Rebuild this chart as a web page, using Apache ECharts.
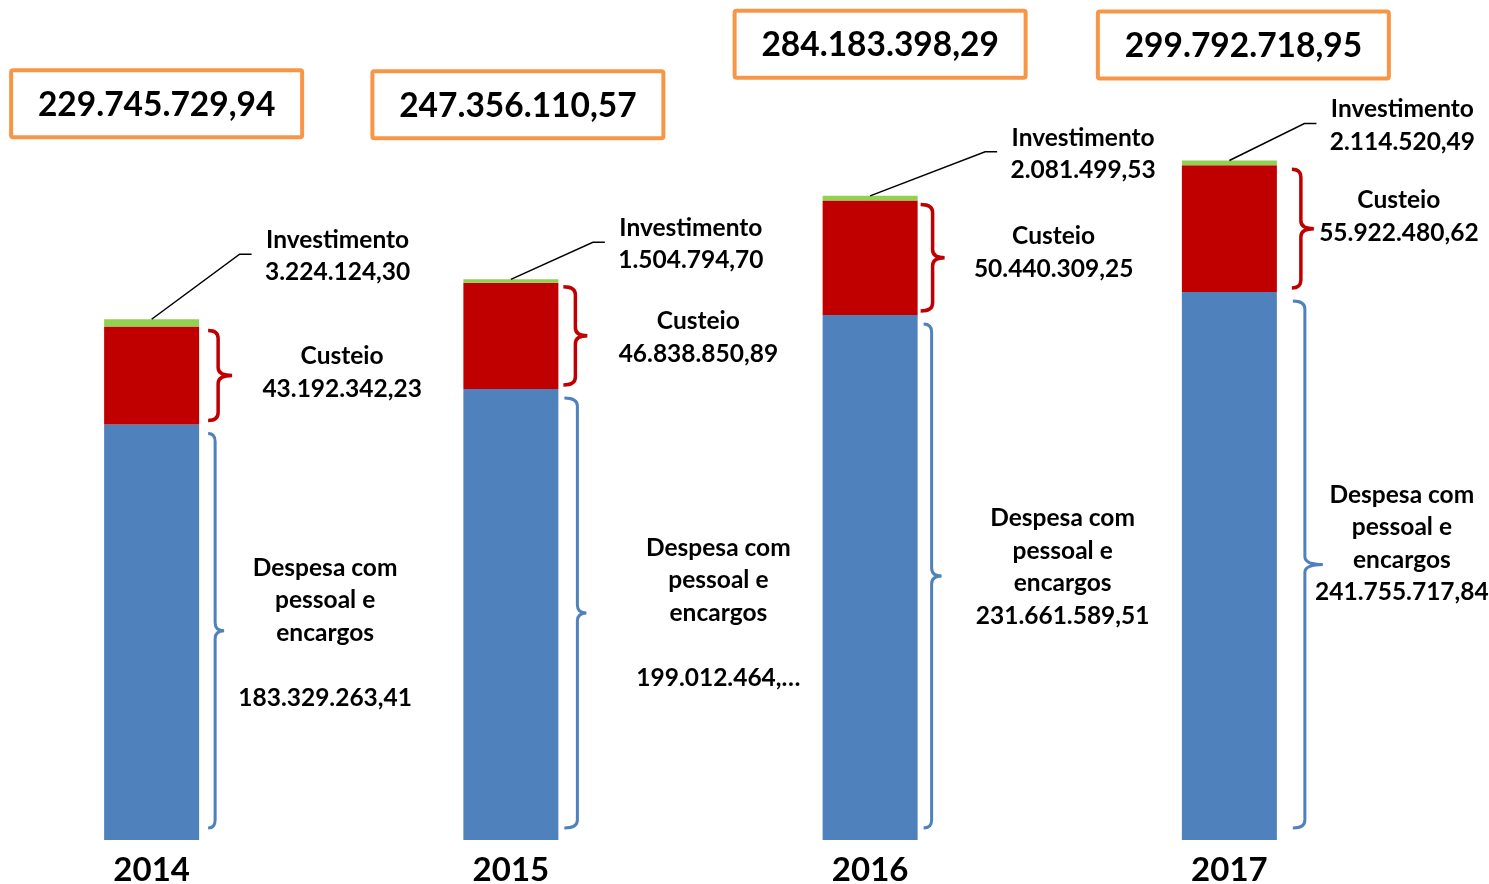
<!DOCTYPE html>
<html>
<head>
<meta charset="utf-8">
<script src="https://cdn.jsdelivr.net/npm/echarts@6/dist/echarts.min.js"></script>
<style>
  html, body { margin: 0; padding: 0; background: #fff; }
  #chart { width: 1489px; height: 884px; }
</style>
</head>
<body>
<div id="chart"></div>
<script>
// dados
const years = ["2014", "2015", "2016", "2017"];
const despesaPessoal = [183329263.41, 199012464.98, 231661589.51, 241755717.84];
const custeio = [43192342.23, 46838850.89, 50440309.25, 55922480.62];
const investimento = [3224124.30, 1504794.70, 2081499.53, 2114520.49];

const FONT = "Lato";
const BAR_W = 95;
const LABEL_SIZE = 24.5;

// layout das anotações (pixels)
const invElbow = [[88, -65], [82, -37], [115, -44], [75, -37]];   // a partir do topo da barra
const custText = [[110, -3], [111, 2], [109, -5], [85, -12]];     // a partir da ponta da chave vermelha
const despText = [[101, 2], [132, 0], [121, -9], [79, -21]];      // a partir da ponta da chave azul
const redBrace = [[9, 19, 33], [5, 17, 29], [3, 15, 27], [15, 24, 37]];  // pontas, haste, bico
const blueBrace = [[9, 16, 25], [6, 19, 28], [6, 14, 24], [16, 28, 46]];
const boxOff = [[5, -215.5], [7, -174.5], [10, -151.5], [14, -115.5]];
const blankLine = [true, true, false, false];
const cutDecimals = [false, true, false, false];

const totals = years.map((y, i) => despesaPessoal[i] + custeio[i] + investimento[i]);

function fmt(v) {
    const parts = v.toFixed(2).split(".");
    return parts[0].replace(/\B(?=(\d{3})+(?!\d))/g, ".") + "," + parts[1];
}

function bracePath(xe, xs, xt, y1, y2, r) {
    const ym = (y1 + y2) / 2;
    return "M" + xe + "," + y1 +
        " Q" + xs + "," + y1 + " " + xs + "," + (y1 + r) +
        " L" + xs + "," + (ym - r) +
        " Q" + xs + "," + ym + " " + xt + "," + ym +
        " Q" + xs + "," + ym + " " + xs + "," + (ym + r) +
        " L" + xs + "," + (y2 - r) +
        " Q" + xs + "," + y2 + " " + xe + "," + y2;
}

function txt(text, x, y, size) {
    return {
        type: "text",
        style: {
            text: text, x: x, y: y,
            align: "center", verticalAlign: "middle",
            fontFamily: FONT, fontWeight: "bold", fontSize: size,
            lineHeight: 32.5, fill: "#000"
        }
    };
}

function renderNotes(params, api) {
    const i = api.value(0);
    const base = api.coord([i, 0]);
    const cx = base[0];
    const y0 = base[1];
    const yBlue = api.coord([i, despesaPessoal[i]])[1];
    const yRed = api.coord([i, despesaPessoal[i] + custeio[i]])[1];
    const yTop = api.coord([i, totals[i]])[1];
    const right = cx + BAR_W / 2;
    const children = [];

    // chave vermelha (custeio)
    const rb = redBrace[i];
    const r1 = yRed + 4, r2 = yBlue - 4;
    children.push({
        type: "path",
        shape: { pathData: bracePath(right + rb[0], right + rb[1], right + rb[2], r1, r2, 8) },
        style: { stroke: "#C00000", lineWidth: 3.5, fill: null }
    });
    const custTip = [right + rb[2], (r1 + r2) / 2];
    children.push(txt("Custeio\n" + fmt(custeio[i]),
        custTip[0] + custText[i][0], custTip[1] + custText[i][1], LABEL_SIZE));

    // chave azul (pessoal)
    const bb = blueBrace[i];
    const b1 = yBlue + 9, b2 = y0 - 12;
    children.push({
        type: "path",
        shape: { pathData: bracePath(right + bb[0], right + bb[1], right + bb[2], b1, b2, 8) },
        style: { stroke: "#4F81BD", lineWidth: 3, fill: null }
    });
    const blueTip = [right + bb[2], (b1 + b2) / 2];
    let num = fmt(despesaPessoal[i]);
    if (cutDecimals[i]) num = num.replace(/,\d+$/, ",…");
    children.push(txt("Despesa com\npessoal e\nencargos\n" + (blankLine[i] ? "\n" : "") + num,
        blueTip[0] + despText[i][0], blueTip[1] + despText[i][1], LABEL_SIZE));

    // linha de chamada do investimento
    const ex = cx + invElbow[i][0], ey = yTop + invElbow[i][1];
    children.push({
        type: "polyline",
        shape: { points: [[cx, yTop], [ex, ey], [ex + 12, ey]] },
        style: { stroke: "#000", lineWidth: 1.5, fill: null }
    });
    children.push(txt("Investimento\n" + fmt(investimento[i]), ex + 12 + 86, ey + 2, LABEL_SIZE));

    // caixa do total
    const bx = cx + boxOff[i][0], by = yTop + boxOff[i][1];
    children.push({
        type: "rect",
        shape: { x: bx - 145.5, y: by - 33.5, width: 291, height: 67, r: 2 },
        style: { stroke: "#F79646", lineWidth: 4, fill: "#fff" }
    });
    children.push(txt(fmt(totals[i]), bx, by + 1, 33.5));

    return { type: "group", children: children };
}

const chart = echarts.init(document.getElementById("chart"));
chart.setOption({
    animation: false,
    grid: { left: -28, right: 80, top: 160, bottom: 44, outerBoundsMode: "none", containLabel: false },
    xAxis: {
        type: "category",
        data: years,
        axisLine: { show: false },
        axisTick: { show: false },
        axisLabel: {
            margin: 14,
            fontFamily: FONT,
            fontWeight: "bold",
            fontSize: 33,
            color: "#000"
        }
    },
    yAxis: {
        type: "value",
        min: 0,
        max: 300000000,
        show: false,
        splitLine: { show: false }
    },
    series: [
        {
            name: "Despesa com pessoal e encargos",
            type: "bar",
            stack: "total",
            barWidth: BAR_W,
            itemStyle: { color: "#4F81BD" },
            data: despesaPessoal
        },
        {
            name: "Custeio",
            type: "bar",
            stack: "total",
            barWidth: BAR_W,
            itemStyle: { color: "#C00000" },
            data: custeio
        },
        {
            name: "Investimento",
            type: "bar",
            stack: "total",
            barWidth: BAR_W,
            itemStyle: { color: "#92D050" },
            data: investimento
        },
        {
            name: "notas",
            type: "custom",
            silent: true,
            clip: false,
            z: 10,
            renderItem: renderNotes,
            encode: { x: 0, y: 1 },
            data: years.map((y, i) => [i, totals[i]])
        }
    ]
});
</script>
</body>
</html>
